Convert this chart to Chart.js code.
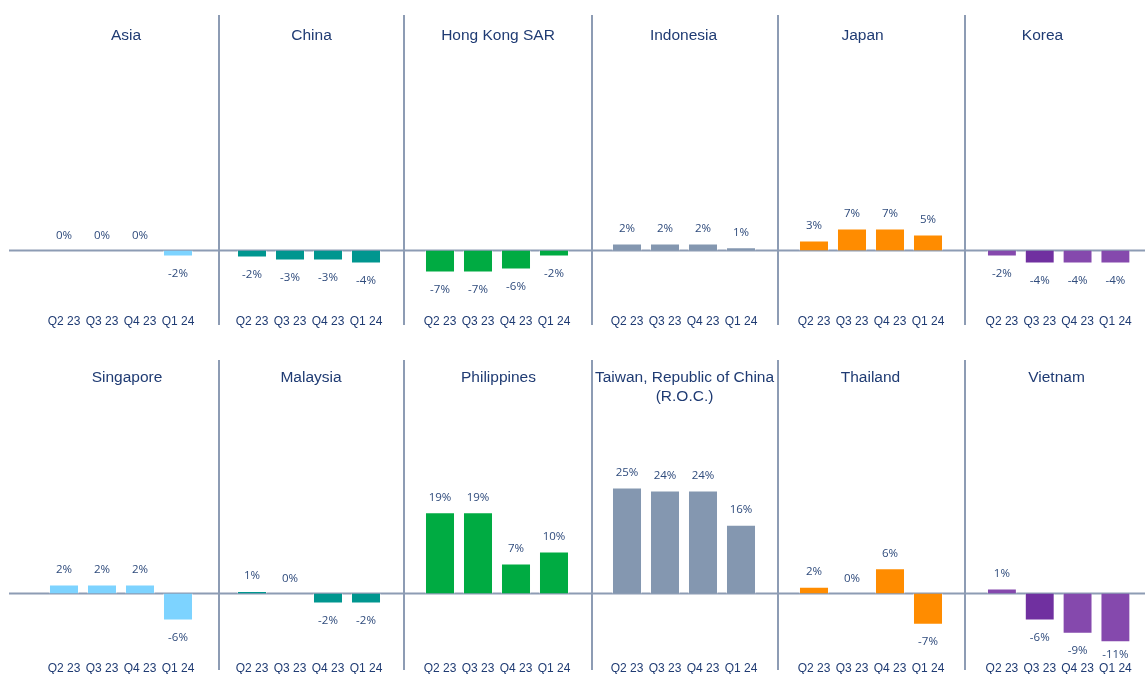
<!DOCTYPE html>
<html>
<head>
<meta charset="utf-8">
<script src="https://cdn.jsdelivr.net/npm/chart.js@4.4.1/dist/chart.umd.min.js"></script>
<style>
  body { margin: 0; background: #fff; }
  #wrap { position: relative; width: 1145px; height: 674px; overflow: hidden; }
  .panel { position: absolute; }
  .sep { position: absolute; width: 2px; background: #8d9cb4; }
</style>
</head>
<body>
<div id="wrap"></div>
<script>
// Datos
const quarters = ['Q2 23', 'Q3 23', 'Q4 23', 'Q1 24'];
const names = ['Asia', 'China', 'Hong Kong SAR', 'Indonesia', 'Japan', 'Korea',
  'Singapore', 'Malaysia', 'Philippines', ['Taiwan, Republic of China', '(R.O.C.)'], 'Thailand', 'Vietnam'];

const asia        = [0, 0, 0, -1.9];
const china       = [-2.2, -3.2, -3.2, -4.1];
const hongKong    = [-7.0, -7.0, -6.0, -1.9];
const indonesia   = [2.2, 2.2, 2.2, 1.0];
const japan       = [3.2, 7.0, 7.0, 5.1];
const korea       = [-1.9, -4.1, -4.1, -4.1];
const singapore   = [2.1, 2.1, 2.1, -6.3];
const malaysia    = [0.6, 0, -2.3, -2.3];
const philippines = [19.0, 19.0, 7.0, 9.8];
const taiwan      = [24.8, 24.1, 24.1, 16.1];
const thailand    = [1.6, 0, 5.9, -7.3];
const vietnam     = [1.2, -6.3, -9.4, -11.4];

const values = [asia, china, hongKong, indonesia, japan, korea,
  singapore, malaysia, philippines, taiwan, thailand, vietnam];

// Colores
const lightBlue = '#7dd3ff';
const teal = '#00968f';
const green = '#00ab42';
const slate = '#8497b0';
const orange = '#ff8c00';
const purple = '#8549ad';
const darkPurple = '#7030a0';

const colors = [
  [lightBlue, lightBlue, lightBlue, lightBlue],
  [teal, teal, teal, teal],
  [green, green, green, green],
  [slate, slate, slate, slate],
  [orange, orange, orange, orange],
  [purple, darkPurple, purple, purple]
];

// Posiciones de los paneles
const cols = [
  { left: 9,   width: 210, padL: 36, padR: 22 },
  { left: 219, width: 185, padL: 14, padR: 19 },
  { left: 404, width: 188, padL: 17, padR: 19 },
  { left: 592, width: 186, padL: 16, padR: 18 },
  { left: 778, width: 187, padL: 17, padR: 18 },
  { left: 965, width: 180, padL: 18, padR: 10 }
];
const rows = [
  { top: 15,  yMin: -16.5, yMax: 74.6, titleY: 21, sepTop: 15,  sepBottom: 325 },
  { top: 362, yMin: -13.1, yMax: 54.1, titleY: 16, sepTop: 360, sepBottom: 670 }
];
const panelHeight = 326;
const titleCenters = [
  [126, 311.5, 498, 683.5, 862.5, 1042.5],
  [127, 311, 498.5, 684.5, 870.5, 1056.5]
];

const textColor = '#1f3b73';
const labelColor = '#2f4b7c';
const lineColor = '#8d9cb4';

// Linea del cero
const zeroLine = {
  id: 'zeroLine',
  beforeDatasetsDraw(chart) {
    const y = chart.scales.y.getPixelForValue(0);
    const c = chart.ctx;
    c.save();
    c.strokeStyle = lineColor;
    c.lineWidth = 2;
    c.beginPath();
    c.moveTo(0, y);
    c.lineTo(chart.width, y);
    c.stroke();
    c.restore();
  }
};

// Etiquetas de valores
const valueLabels = {
  id: 'valueLabels',
  afterDatasetsDraw(chart) {
    const c = chart.ctx;
    const meta = chart.getDatasetMeta(0);
    const data = chart.data.datasets[0].data;
    const maxY = chart.chartArea.bottom + 5;
    c.save();
    c.font = '11.5px "Open Sans"';
    c.fillStyle = labelColor;
    c.textAlign = 'center';
    c.textBaseline = 'middle';
    meta.data.forEach((bar, i) => {
      const v = data[i];
      let r = Math.round(v);
      if (r === 0) r = 0;
      const y = v < 0 ? Math.min(bar.y + 17, maxY) : bar.y - 15;
      c.fillText(r + '%', bar.x, y);
    });
    c.restore();
  }
};

// Titulo del panel
const panelTitle = {
  id: 'panelTitle',
  afterDraw(chart, args, opts) {
    const c = chart.ctx;
    const lines = Array.isArray(opts.text) ? opts.text : [opts.text];
    c.save();
    c.font = '15.5px "Liberation Sans", Arial, sans-serif';
    c.fillStyle = textColor;
    c.textAlign = 'center';
    c.textBaseline = 'middle';
    lines.forEach((t, k) => c.fillText(t, opts.x, opts.y + k * 19));
    c.restore();
  }
};

const wrap = document.getElementById('wrap');

rows.forEach((row, r) => {
  cols.forEach((col, k) => {
    const idx = r * 6 + k;
    const div = document.createElement('div');
    div.className = 'panel';
    div.style.left = col.left + 'px';
    div.style.top = row.top + 'px';
    div.style.width = col.width + 'px';
    div.style.height = panelHeight + 'px';
    const cv = document.createElement('canvas');
    div.appendChild(cv);
    wrap.appendChild(div);

    new Chart(cv.getContext('2d'), {
      type: 'bar',
      data: {
        labels: quarters,
        datasets: [{
          data: values[idx],
          backgroundColor: colors[k],
          borderColor: 'rgba(255,255,255,0.45)',
          borderWidth: 1,
          barPercentage: 0.79,
          categoryPercentage: 1.0
        }]
      },
      options: {
        responsive: true,
        maintainAspectRatio: false,
        animation: false,
        layout: { padding: { left: col.padL, right: col.padR, top: 0, bottom: 0 } },
        plugins: {
          legend: { display: false },
          tooltip: { enabled: false },
          panelTitle: { text: names[idx], x: titleCenters[r][k] - col.left, y: row.titleY }
        },
        scales: {
          x: {
            grid: { display: false, drawTicks: false },
            border: { display: false },
            ticks: {
              color: textColor,
              padding: 12,
              maxRotation: 0,
              autoSkip: false,
              font: { family: '"Liberation Sans", Arial, sans-serif', size: 12 }
            }
          },
          y: {
            display: false,
            min: row.yMin,
            max: row.yMax
          }
        }
      },
      plugins: [zeroLine, valueLabels, panelTitle]
    });
  });
});

// Separadores verticales
[219, 404, 592, 778, 965].forEach(x => {
  rows.forEach(row => {
    const s = document.createElement('div');
    s.className = 'sep';
    s.style.left = (x - 1) + 'px';
    s.style.top = row.sepTop + 'px';
    s.style.height = (row.sepBottom - row.sepTop) + 'px';
    wrap.appendChild(s);
  });
});
</script>
</body>
</html>
